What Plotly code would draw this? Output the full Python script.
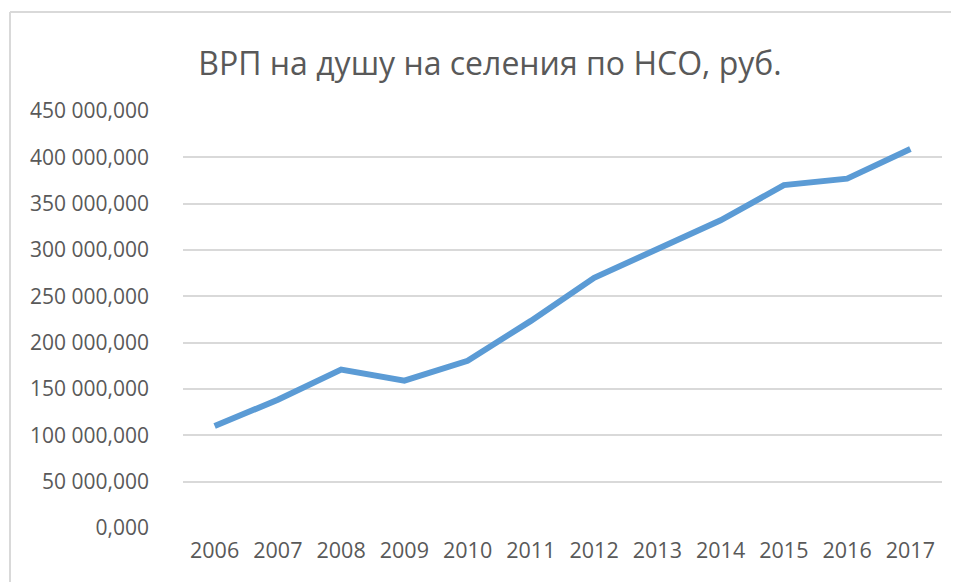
import plotly.graph_objects as go

years = ["2006", "2007", "2008", "2009", "2010", "2011", "2012", "2013", "2014", "2015", "2016", "2017"]
grp_per_capita = [110e6, 138.5e6, 171e6, 159e6, 180.5e6, 223.5e6, 270e6, 301e6, 332e6, 370e6, 377e6, 409e6]
y_tick_values = [0, 50e6, 100e6, 150e6, 200e6, 250e6, 300e6, 350e6, 400e6, 450e6]
y_tick_labels = ["0,000", "50 000,000", "100 000,000", "150 000,000", "200 000,000",
                 "250 000,000", "300 000,000", "350 000,000", "400 000,000", "450 000,000"]
title_text = "ВРП на душу на селения по НСО, руб."

FONT = "Open Sans"
TXT = "#595959"

# page body has an 8px default margin, so figure pixel = screen pixel - 8
W, H = 951, 574
L, T = 175, 103
R = W - 934
B = H - 520
PW, PH = W - L - R, H - T - B

fig = go.Figure()
fig.add_trace(go.Scatter(
    x=years, y=grp_per_capita, mode="lines",
    line=dict(color="#5B9BD5", width=6, shape="linear"),
    hoverinfo="x+y", showlegend=False,
))

bx0 = (2 - L) / PW
bx1 = (W + 5 - L) / PW
by_top = (PH + T - 4) / PH
by_bot = (PH + T - (H + 5)) / PH
border = dict(color="#d9d9d9", width=2)

fig.update_layout(
    width=W, height=H,
    margin=dict(l=L, r=R, t=T, b=B),
    paper_bgcolor="white", plot_bgcolor="white",
    font=dict(family=FONT, color=TXT, size=21),
    title=dict(text=title_text, x=482 / W, xanchor="center", y=1 - 56 / H,
               yanchor="middle", yref="container",
               font=dict(family=FONT, size=32, color=TXT)),
    xaxis=dict(type="category", range=[-0.5, 11.5], showgrid=False, zeroline=False,
               showline=False, ticks="", tickfont=dict(size=21.5, color=TXT),
               ticklabelstandoff=7),
    yaxis=dict(range=[0, 450e6], tickvals=y_tick_values, ticktext=y_tick_labels,
               showgrid=True, gridcolor="#d9d9d9", gridwidth=2, zeroline=False,
               showline=False, ticks="", tickfont=dict(size=21, color=TXT),
               ticklabelstandoff=33),
    shapes=[
        dict(type="line", xref="paper", yref="paper", x0=bx0, x1=bx1,
             y0=by_top, y1=by_top, line=border, layer="below"),
        dict(type="line", xref="paper", yref="paper", x0=bx0, x1=bx0,
             y0=by_top, y1=by_bot, line=border, layer="below"),
    ],
)

fig.write_html("out.html", config={"displayModeBar": False})
